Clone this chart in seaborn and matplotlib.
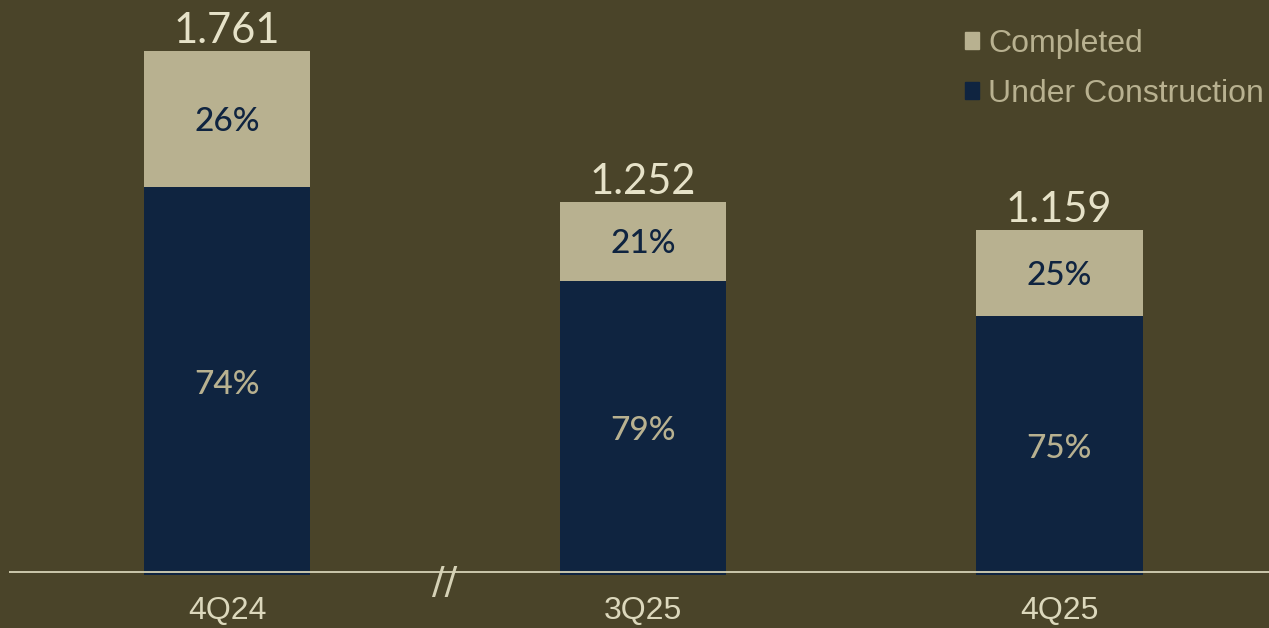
import matplotlib
matplotlib.use("Agg")
import matplotlib.pyplot as plt
from matplotlib import font_manager
from matplotlib.patches import Patch
from matplotlib.transforms import blended_transform_factory
import seaborn as sns
import pandas as pd

# Portfolio totals by quarter and the share that is under construction
quarters = ["4Q24", "3Q25", "4Q25"]
totals = [1.761, 1.252, 1.159]
under_pct = [74, 79, 75]
completed_pct = [26, 21, 25]
total_labels = ["1.761", "1.252", "1.159"]

BG = "#4a4429"
NAVY = "#0f2440"
BEIGE = "#b8b190"
LIGHT = "#e6e2c8"

sns.set_theme(style="white")
installed = {f.name for f in font_manager.fontManager.ttflist}
narrow = "Liberation Sans Narrow" if "Liberation Sans Narrow" in installed else "Liberation Sans"
plt.rcParams["font.family"] = ["Liberation Sans", "DejaVu Sans"]

df = pd.DataFrame({
    "quarter": quarters,
    "total": totals,
    "under": [t * p / 100 for t, p in zip(totals, under_pct)],
})

fig = plt.figure(figsize=(12.69, 6.28), dpi=100, facecolor=BG)
ax = fig.add_axes([9 / 1269, (628 - 575) / 628, 1260 / 1269, 575 / 628])
ax.set_facecolor(BG)

sns.barplot(data=df, x="quarter", y="total", color=BEIGE, width=0.4,
            saturation=1, ax=ax, linewidth=0)
sns.barplot(data=df, x="quarter", y="under", color=NAVY, width=0.4,
            saturation=1, ax=ax, linewidth=0)

ax.set_xlim(-0.524, 2.504)
ax.set_ylim(0, 1.932)
for s in ax.spines.values():
    s.set_visible(False)
ax.set_yticks([])
ax.set_xlabel("")
ax.set_ylabel("")
ax.tick_params(axis="x", length=0, pad=15, labelsize=23, labelcolor="#dcd8bc")
for lbl in ax.get_xticklabels():
    lbl.set_fontfamily(narrow)

# baseline
ax.axhline(0.011, color="#d6d2b6", lw=1.3, zorder=5)

num_font = ["Lato", "DejaVu Sans"]
for i, (t, up, cp, tl) in enumerate(zip(totals, under_pct, completed_pct, total_labels)):
    u = t * up / 100
    ax.text(i, u / 2 - 0.012, f"{up}%", ha="center", va="center", color=BEIGE,
            fontsize=24, family=num_font, fontweight="medium")
    ax.text(i, u + (t - u) / 2 - 0.01, f"{cp}%", ha="center", va="center", color=NAVY,
            fontsize=24, family=num_font, fontweight="medium")
    ax.text(i, t + 0.004, tl, ha="center", va="bottom", color=LIGHT,
            fontsize=30, family=num_font)

# axis break marker between the first and second quarter
trans = blended_transform_factory(ax.transData, ax.transAxes)
ax.text(0.524, -0.014, "//", transform=trans, ha="center", va="center",
        color="#d6d2b6", fontsize=27, family=["DejaVu Sans"],
        zorder=6, clip_on=False)

# legend
handles = [Patch(facecolor=BEIGE, edgecolor=BEIGE, label="Completed"),
           Patch(facecolor=NAVY, edgecolor=NAVY, label="Under Construction")]
leg = fig.legend(handles=handles, loc="upper right", bbox_to_anchor=(1.019, 1.0),
                 frameon=False, fontsize=23, handlelength=0.45, handleheight=0.45,
                 handletextpad=0.3, labelspacing=0.64, labelcolor=BEIGE)

fig.savefig("out.png", dpi=100, facecolor=BG)
